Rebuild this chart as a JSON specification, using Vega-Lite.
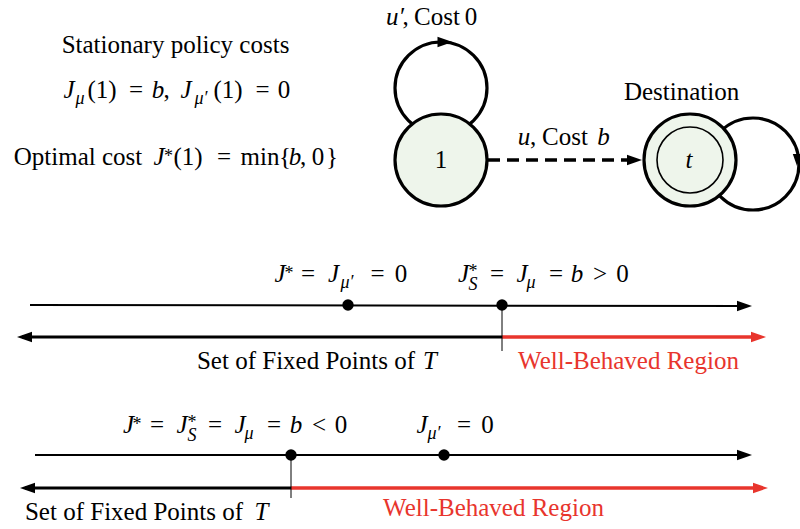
{
  "$schema": "https://vega.github.io/schema/vega-lite/v6.json",
  "width": 800,
  "height": 529,
  "padding": 0,
  "autosize": {"type": "none"},
  "background": "white",
  "config": {"view": {"stroke": null}},
  "datasets": {
    "loops": [{"x": 441, "y": 88}, {"x": 753, "y": 164}],
    "nodes": [{"x": 441, "y": 160}, {"x": 690, "y": 160}],
    "inner": [{"x": 690, "y": 160}],
    "topLines": [{"x": 30, "x2": 746, "y": 305, "y2": 306}, {"x": 35, "x2": 746, "y": 455, "y2": 455}],
    "blackLines": [{"x": 22, "x2": 502, "y": 337, "y2": 337}, {"x": 25, "x2": 291, "y": 488, "y2": 488}],
    "redLines": [{"x": 502, "x2": 760, "y": 337, "y2": 337}, {"x": 291, "x2": 762, "y": 488, "y2": 488}],
    "ticks": [{"x": 502, "x2": 502, "y": 305, "y2": 351}, {"x": 291, "x2": 291, "y": 455, "y2": 498}],
    "dashed": [{"x": 488, "x2": 632, "y": 160, "y2": 160}],
    "arrowR": [{"x": 744.5, "y": 306}, {"x": 744.5, "y": 455}, {"x": 634.5, "y": 160}, {"x": 445, "y": 42}],
    "arrowL": [{"x": 24.5, "y": 337}, {"x": 27.5, "y": 488}],
    "arrowRed": [{"x": 758.5, "y": 337}, {"x": 760.5, "y": 488}],
    "arrowDown": [{"x": 797, "y": 160}],
    "dots": [{"x": 348, "y": 305}, {"x": 502, "y": 305}, {"x": 291, "y": 455}, {"x": 444, "y": 455}],
    "roman": [
      {"x": 175.5, "y": 53, "t": "Stationary policy costs"},
      {"x": 102, "y": 98, "t": "(1)"},
      {"x": 136, "y": 98, "t": "="},
      {"x": 166.5, "y": 98, "t": ","},
      {"x": 228, "y": 98, "t": "(1)"},
      {"x": 262.5, "y": 98, "t": "="},
      {"x": 284, "y": 98, "t": "0"},
      {"x": 78, "y": 165, "t": "Optimal cost"},
      {"x": 188, "y": 165, "t": "(1)"},
      {"x": 224, "y": 165, "t": "="},
      {"x": 260, "y": 165, "t": "min"},
      {"x": 285, "y": 165, "t": "{"},
      {"x": 303, "y": 165, "t": ","},
      {"x": 318, "y": 165, "t": "0"},
      {"x": 332, "y": 165, "t": "}"},
      {"x": 405.5, "y": 25, "t": ","},
      {"x": 437, "y": 25, "t": "Cost"},
      {"x": 471, "y": 25, "t": "0"},
      {"x": 533, "y": 145, "t": ","},
      {"x": 565, "y": 145, "t": "Cost"},
      {"x": 681.5, "y": 100, "t": "Destination"},
      {"x": 441, "y": 168, "t": "1"},
      {"x": 308, "y": 282, "t": "="},
      {"x": 377.5, "y": 282, "t": "="},
      {"x": 401, "y": 282, "t": "0"},
      {"x": 497, "y": 282, "t": "="},
      {"x": 556, "y": 282, "t": "="},
      {"x": 600, "y": 282, "t": ">"},
      {"x": 622.5, "y": 282, "t": "0"},
      {"x": 306, "y": 369, "t": "Set of Fixed Points of"},
      {"x": 157, "y": 433, "t": "="},
      {"x": 215, "y": 433, "t": "="},
      {"x": 274, "y": 433, "t": "="},
      {"x": 319, "y": 433, "t": "<"},
      {"x": 341, "y": 433, "t": "0"},
      {"x": 464, "y": 433, "t": "="},
      {"x": 487.5, "y": 433, "t": "0"},
      {"x": 134, "y": 520, "t": "Set of Fixed Points of"}
    ],
    "italic": [
      {"x": 69, "y": 98, "t": "J"},
      {"x": 158, "y": 98, "t": "b"},
      {"x": 186, "y": 98, "t": "J"},
      {"x": 159, "y": 165, "t": "J"},
      {"x": 295, "y": 165, "t": "b"},
      {"x": 395, "y": 25, "t": "u′"},
      {"x": 524, "y": 145, "t": "u"},
      {"x": 603.5, "y": 145, "t": "b"},
      {"x": 689, "y": 168, "t": "t"},
      {"x": 280, "y": 282, "t": "J"},
      {"x": 333.5, "y": 282, "t": "J"},
      {"x": 463.5, "y": 282, "t": "J"},
      {"x": 522, "y": 282, "t": "J"},
      {"x": 577, "y": 282, "t": "b"},
      {"x": 430, "y": 369, "t": "T"},
      {"x": 128.5, "y": 433, "t": "J"},
      {"x": 182, "y": 433, "t": "J"},
      {"x": 240, "y": 433, "t": "J"},
      {"x": 296, "y": 433, "t": "b"},
      {"x": 422, "y": 433, "t": "J"},
      {"x": 261.5, "y": 520, "t": "T"}
    ],
    "subs": [
      {"x": 80, "y": 104, "t": "μ"},
      {"x": 201, "y": 104, "t": "μ′"},
      {"x": 347, "y": 288, "t": "μ′"},
      {"x": 473, "y": 290, "t": "S"},
      {"x": 531, "y": 288, "t": "μ"},
      {"x": 192, "y": 441, "t": "S"},
      {"x": 249, "y": 439, "t": "μ"},
      {"x": 434, "y": 439, "t": "μ′"}
    ],
    "sups": [
      {"x": 168.5, "y": 162, "t": "*"},
      {"x": 289, "y": 279, "t": "*"},
      {"x": 473, "y": 277, "t": "*"},
      {"x": 137, "y": 430, "t": "*"},
      {"x": 192, "y": 428, "t": "*"}
    ],
    "red": [
      {"x": 628.5, "y": 369, "t": "Well-Behaved Region"},
      {"x": 493.5, "y": 516, "t": "Well-Behaved Region"}
    ]
  },
  "encoding": {
    "x": {"field": "x", "type": "quantitative", "scale": {"domain": [0, 800], "nice": false, "zero": false}, "axis": null},
    "y": {"field": "y", "type": "quantitative", "scale": {"domain": [0, 529], "nice": false, "zero": false, "reverse": true}, "axis": null}
  },
  "layer": [
    {"data": {"name": "loops"}, "mark": {"type": "point", "shape": "circle", "size": 8464, "filled": false, "stroke": "black", "strokeWidth": 3.2, "opacity": 1}},
    {"data": {"name": "nodes"}, "mark": {"type": "point", "shape": "circle", "size": 8464, "filled": true, "fill": "#eef5eb", "stroke": "black", "strokeWidth": 3.2, "opacity": 1}},
    {"data": {"name": "inner"}, "mark": {"type": "point", "shape": "circle", "size": 4356, "filled": false, "stroke": "black", "strokeWidth": 1.6, "opacity": 1}},
    {"data": {"name": "dashed"}, "mark": {"type": "rule", "stroke": "black", "strokeWidth": 3.5, "strokeDash": [12, 7]}, "encoding": {"x2": {"field": "x2"}, "y2": {"field": "y2"}}},
    {"data": {"name": "topLines"}, "mark": {"type": "rule", "stroke": "black", "strokeWidth": 2}, "encoding": {"x2": {"field": "x2"}, "y2": {"field": "y2"}}},
    {"data": {"name": "blackLines"}, "mark": {"type": "rule", "stroke": "black", "strokeWidth": 3}, "encoding": {"x2": {"field": "x2"}, "y2": {"field": "y2"}}},
    {"data": {"name": "redLines"}, "mark": {"type": "rule", "stroke": "#e8352d", "strokeWidth": 3.5}, "encoding": {"x2": {"field": "x2"}, "y2": {"field": "y2"}}},
    {"data": {"name": "ticks"}, "mark": {"type": "rule", "stroke": "black", "strokeWidth": 1}, "encoding": {"x2": {"field": "x2"}, "y2": {"field": "y2"}}},
    {"data": {"name": "arrowR"}, "mark": {"type": "point", "shape": "M-1,-0.7L1,0L-1,0.7Z", "size": 225, "filled": true, "fill": "black", "strokeWidth": 0, "opacity": 1}},
    {"data": {"name": "arrowL"}, "mark": {"type": "point", "shape": "M1,-0.7L-1,0L1,0.7Z", "size": 225, "filled": true, "fill": "black", "strokeWidth": 0, "opacity": 1}},
    {"data": {"name": "arrowRed"}, "mark": {"type": "point", "shape": "M-1,-0.7L1,0L-1,0.7Z", "size": 225, "filled": true, "fill": "#e8352d", "strokeWidth": 0, "opacity": 1}},
    {"data": {"name": "arrowDown"}, "mark": {"type": "point", "shape": "M-0.7,-1L0,1L0.7,-1Z", "size": 144, "filled": true, "fill": "black", "strokeWidth": 0, "opacity": 1}},
    {"data": {"name": "dots"}, "mark": {"type": "point", "shape": "circle", "size": 130, "filled": true, "fill": "black", "strokeWidth": 0, "opacity": 1}},
    {"data": {"name": "roman"}, "mark": {"type": "text", "font": "Liberation Serif", "fontSize": 25, "align": "center", "baseline": "alphabetic", "color": "black"}, "encoding": {"text": {"field": "t"}}},
    {"data": {"name": "italic"}, "mark": {"type": "text", "font": "Liberation Serif", "fontSize": 25, "fontStyle": "italic", "align": "center", "baseline": "alphabetic", "color": "black"}, "encoding": {"text": {"field": "t"}}},
    {"data": {"name": "subs"}, "mark": {"type": "text", "font": "Liberation Serif", "fontSize": 18, "fontStyle": "italic", "align": "center", "baseline": "alphabetic", "color": "black"}, "encoding": {"text": {"field": "t"}}},
    {"data": {"name": "sups"}, "mark": {"type": "text", "font": "Liberation Serif", "fontSize": 18, "align": "center", "baseline": "alphabetic", "color": "black"}, "encoding": {"text": {"field": "t"}}},
    {"data": {"name": "red"}, "mark": {"type": "text", "font": "Liberation Serif", "fontSize": 25, "align": "center", "baseline": "alphabetic", "color": "#e8352d"}, "encoding": {"text": {"field": "t"}}}
  ]
}
